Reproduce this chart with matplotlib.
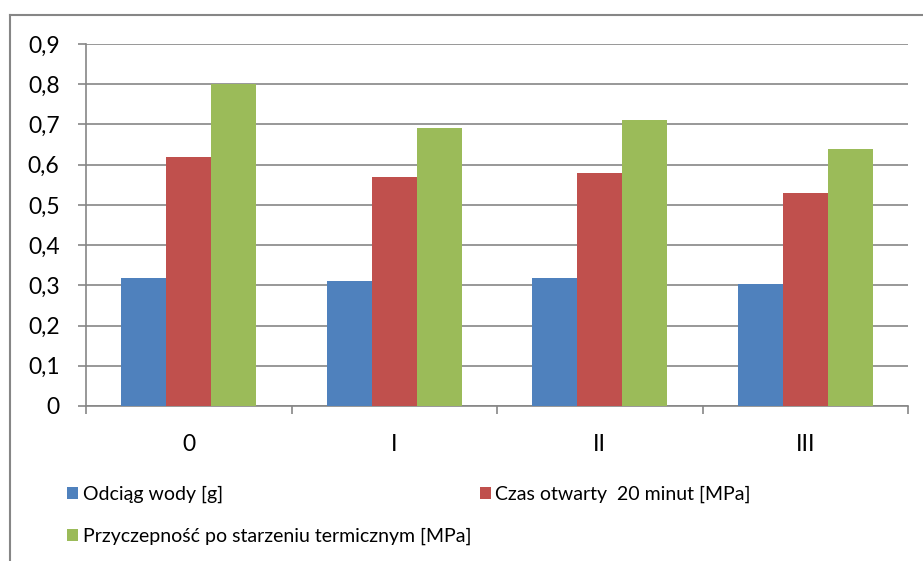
import numpy as np
import matplotlib.pyplot as plt
from matplotlib.ticker import FuncFormatter, FixedLocator
from matplotlib.lines import Line2D

categories = ['0', 'I', 'II', 'III']
series_names = ['Odciąg wody [g]', 'Czas otwarty  20 minut [MPa]',
                'Przyczepność po starzeniu termicznym [MPa]']
odciag = [0.318, 0.311, 0.317, 0.303]
czas = [0.62, 0.57, 0.58, 0.53]
przyczepnosc = [0.80, 0.69, 0.71, 0.64]
colors = ['#4f81bd', '#c0504d', '#9bbb59']

plt.rcParams['font.family'] = ['Lato', 'DejaVu Sans']

fig = plt.figure(figsize=(9.23, 5.61), dpi=100)
ax = fig.add_axes([86 / 923, 1 - 406 / 561, (908 - 86) / 923, (406 - 44) / 561])

x = np.arange(len(categories))
w = 0.219
bars = []
for i, (vals, c) in enumerate(zip([odciag, czas, przyczepnosc], colors)):
    b = ax.bar(x + (i - 1) * w, vals, w, color=c, label=series_names[i], zorder=3)
    bars.append(b)

grid_c = '#868686'
ax.set_xlim(-0.5, len(categories) - 0.5)
ax.set_ylim(0, 0.9)
ax.set_yticks(np.arange(0, 0.91, 0.1))
ax.yaxis.set_major_formatter(FuncFormatter(
    lambda v, p: '0' if abs(v) < 1e-9 else f'{v:.1f}'.replace('.', ',')))
ax.yaxis.grid(True, color=grid_c, linewidth=1.2, zorder=0)
ax.set_axisbelow(True)

ax.set_xticks(x)
ax.set_xticklabels(categories)
ax.xaxis.set_minor_locator(FixedLocator(np.arange(-0.5, len(categories), 1.0)))
ax.tick_params(axis='x', which='major', length=0, pad=20, labelsize=16.5)
ax.tick_params(axis='x', which='minor', length=6, width=1.2, color=grid_c, direction='out')
ax.tick_params(axis='y', length=6, width=1.2, color=grid_c, pad=13, labelsize=16.5)

for s in ['top', 'right']:
    ax.spines[s].set_visible(False)
for s in ['left', 'bottom']:
    ax.spines[s].set_color(grid_c)
    ax.spines[s].set_linewidth(1.2)

# ramka wykresu (ucięta z prawej i od dołu)
fig.add_artist(Line2D([10 / 923, 1.0], [1 - 15 / 561] * 2, color=grid_c, lw=1.5))
fig.add_artist(Line2D([10 / 923] * 2, [0.0, 1 - 15 / 561], color=grid_c, lw=1.5))

handles = [bars[0], bars[2], bars[1]]
labels = [series_names[0], series_names[2], series_names[1]]
fig.legend(handles, labels, ncol=2, loc='upper left',
           bbox_to_anchor=(67 / 923, 1 - 486 / 561), frameon=False,
           fontsize=14, handlelength=0.55, handleheight=0.55, handletextpad=0.25,
           columnspacing=0.45, labelspacing=1.27, borderaxespad=0, borderpad=0)

fig.savefig('out.png', dpi=100)
